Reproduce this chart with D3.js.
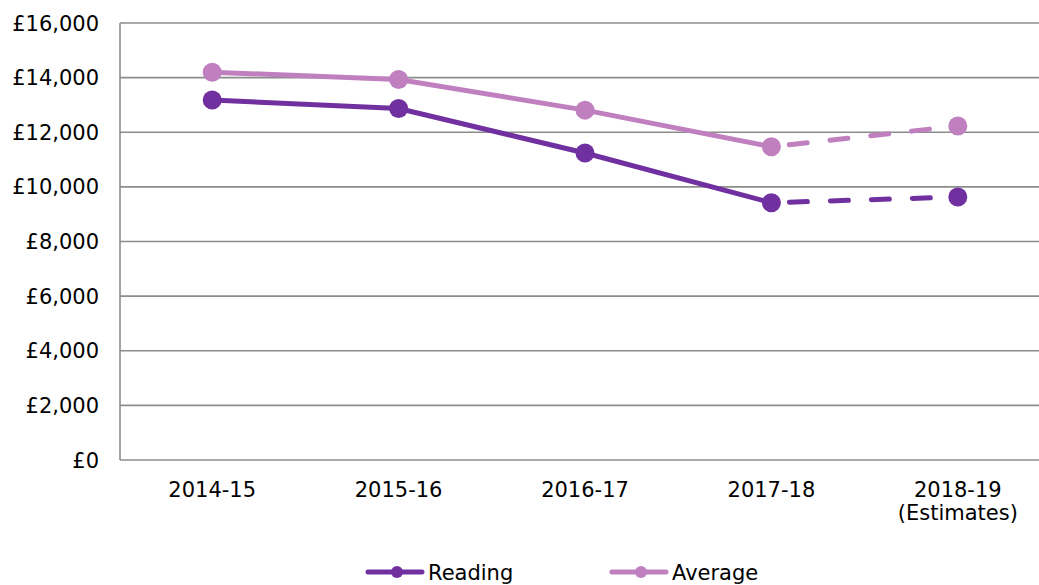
<!DOCTYPE html>
<html><head><meta charset="utf-8">
<script src="https://cdn.jsdelivr.net/npm/d3@7"></script>
<style>body{margin:0;background:#fff}svg{display:block}text{font-family:Verdana,"DejaVu Sans",sans-serif;fill:#000}</style>
</head><body><svg id="c" width="1039" height="585"></svg>
<script>
const categories = ["2014-15","2015-16","2016-17","2017-18","2018-19\n(Estimates)"];
const reading = [13180, 12870, 11240, 9420, 9630];
const average = [14200, 13930, 12810, 11470, 12230];
const yTicks = [0,2000,4000,6000,8000,10000,12000,14000,16000];
const seriesNames = ["Reading","Average"];
const colors = ["#7030a0","#c080c0"];

const svg = d3.select("#c");
const x = d3.scaleBand().domain(categories).range([119,1051]);
const cx = d => x(d) + x.bandwidth()/2;
const y = d3.scaleLinear().domain([0,16000]).range([460,23]);

// gridlines
svg.append("g").selectAll("line").data(yTicks).join("line")
  .attr("x1",120).attr("x2",1039).attr("y1",d=>y(d)).attr("y2",d=>y(d))
  .attr("stroke","#8c8c8c").attr("stroke-width",1.6);
svg.append("line").attr("x1",120).attr("x2",120).attr("y1",y(16000)).attr("y2",y(0))
  .attr("stroke","#8c8c8c").attr("stroke-width",1.6);

// y labels
const fmt = d => "£" + d3.format(",")(d);
svg.append("g").selectAll("text").data(yTicks).join("text")
  .attr("x",99).attr("y",d=>y(d)).attr("dy","0.36em").attr("text-anchor","end")
  .attr("font-size",21).text(fmt);

// x labels
const xl = svg.append("g").selectAll("text").data(categories).join("text")
  .attr("x",d=>cx(d)).attr("y",497).attr("text-anchor","middle").attr("font-size",21);
xl.each(function(d){
  const parts = d.split("\n");
  d3.select(this).selectAll("tspan").data(parts).join("tspan")
    .attr("x",cx(d)).attr("dy",(p,i)=>i===0?0:23).text(p=>p);
});

// series
[reading, average].forEach((vals,si)=>{
  const pts = categories.map((c,i)=>[cx(c), y(vals[i])]);
  const g = svg.append("g");
  const line = d3.line();
  g.append("path").attr("d",line(pts.slice(0,4))).attr("fill","none")
    .attr("stroke",colors[si]).attr("stroke-width",5).attr("stroke-linejoin","round");
  g.append("path").attr("d",line(pts.slice(3,5))).attr("fill","none")
    .attr("stroke",colors[si]).attr("stroke-width",5).attr("stroke-linecap","round")
    .attr("stroke-dasharray","18,23").attr("stroke-dashoffset",-18);
  g.selectAll("circle").data(pts).join("circle")
    .attr("cx",d=>d[0]).attr("cy",d=>d[1]).attr("r",9.5).attr("fill",colors[si]);
});

// legend
const legX = [368, 612];
seriesNames.forEach((n,i)=>{
  const g = svg.append("g");
  g.append("line").attr("x1",legX[i]).attr("x2",legX[i]+54).attr("y1",572).attr("y2",572)
    .attr("stroke",colors[i]).attr("stroke-width",5).attr("stroke-linecap","round");
  g.append("circle").attr("cx",legX[i]+29).attr("cy",572).attr("r",6).attr("fill",colors[i]);
  g.append("text").attr("x",legX[i]+60).attr("y",572).attr("dy","0.36em").attr("font-size",21).text(n);
});
</script></body></html>
